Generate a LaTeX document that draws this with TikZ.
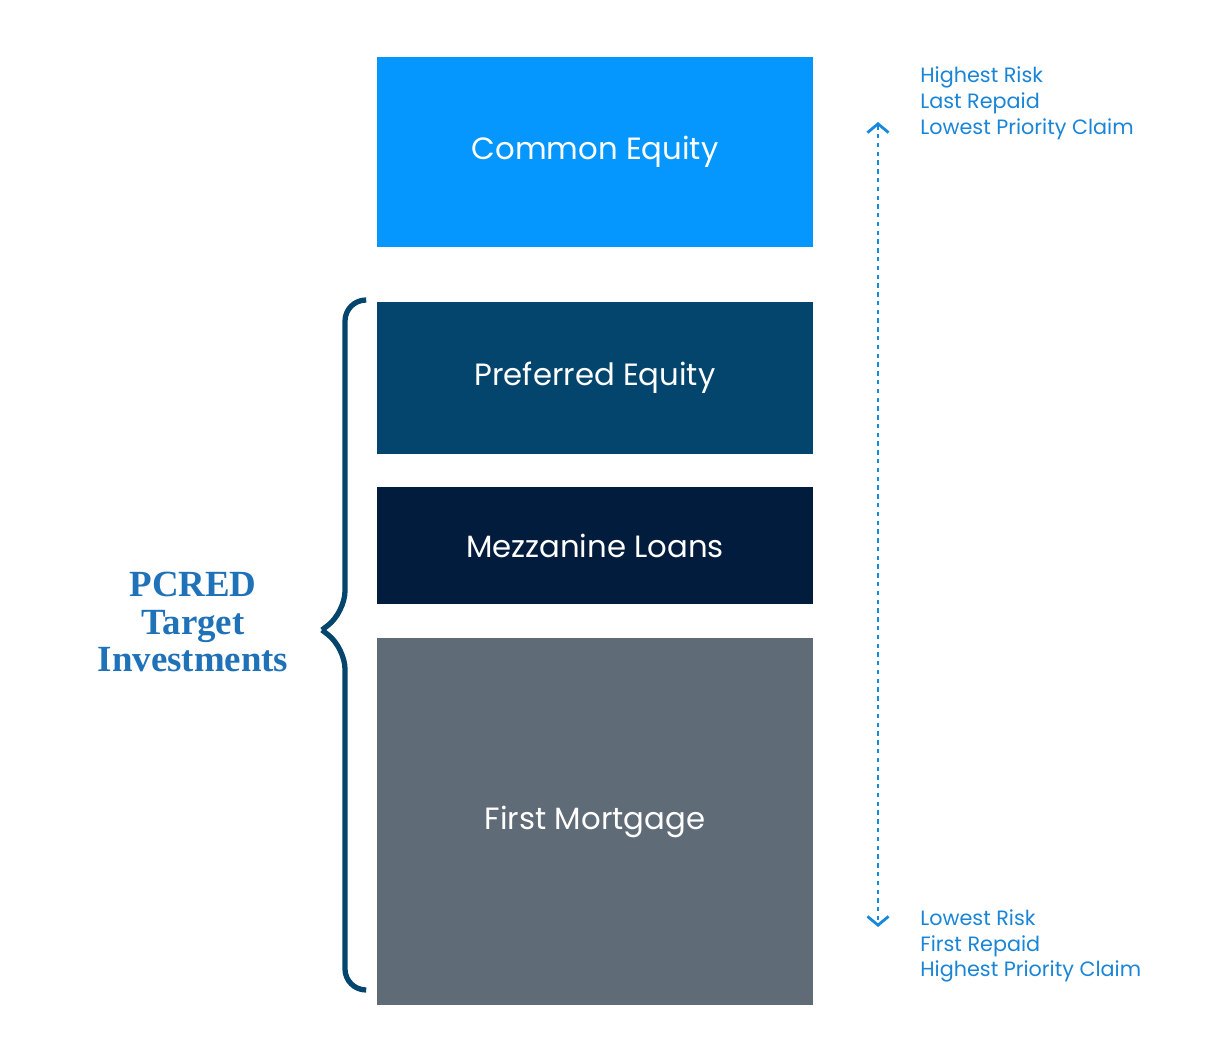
\documentclass[tikz,border=0pt]{standalone}
\usepackage{fontspec}
\setmainfont{Poppins}
\newfontfamily\headfont{Liberation Serif}
\usetikzlibrary{arrows.meta}
\definecolor{cequity}{HTML}{0597FE}
\definecolor{pequity}{HTML}{04456D}
\definecolor{mezz}{HTML}{021C3E}
\definecolor{fmort}{HTML}{5F6B76}
\definecolor{riskblue}{HTML}{1A85D6}
\definecolor{pcred}{HTML}{1F72B8}
\tikzset{
  tier/.style={draw=none, minimum width=8.72cm, text=white, font=\fontsize{17.5}{20}\selectfont},
  note/.style={anchor=west, align=left, text=riskblue, font=\fontsize{11.8}{14.7}\selectfont, inner sep=0pt}
}
\begin{document}
\begin{tikzpicture}[x=0.02cm, y=-0.02cm]
        \useasboundingbox (0,0) rectangle (1221,1044);

        \node[tier, fill=cequity, minimum height=3.8cm] (ce) at (595,152) {Common Equity};
        \node[tier, fill=pequity, minimum height=3.04cm] (pe) at (595,378) {Preferred Equity};
        \node[tier, fill=mezz, minimum height=2.34cm] (ml) at (595,545.5) {Mezzanine Loans};
        \node[tier, fill=fmort, minimum height=7.34cm] (fm) at (595,821.5) {First Mortgage};

        \coordinate (top) at (878,122);
        \coordinate (bot) at (878,927);
        \draw[riskblue!80!cequity, line width=1.6pt, dash pattern=on 2.5pt off 2.5pt,
              {Straight Barb[length=5pt,width=12pt]}-{Straight Barb[length=5pt,width=12pt]}] (top) -- (bot);

        \node[note] (hi) at (920,103) {Highest Risk\\Last Repaid\\Lowest Priority Claim};
        \node[note] (lo) at (920,946) {Lowest Risk\\First Repaid\\Highest Priority Claim};

        \node[text=pcred, align=center, font=\headfont\bfseries\fontsize{21}{21.6}\selectfont] (pc) at (193,622) {PCRED\\Target\\Investments};

        \coordinate (bt) at (365,300);
        \coordinate (bb) at (365,990);
        \coordinate (tip) at (322,630);
        \draw[pequity, line width=3pt, rounded corners=12pt] (bt) -- (345,300) -- (345,612) -- (tip);
        \draw[pequity, line width=3pt, rounded corners=12pt] (tip) -- (345,648) -- (345,990) -- (bb);
    \end{tikzpicture}
\end{document}
